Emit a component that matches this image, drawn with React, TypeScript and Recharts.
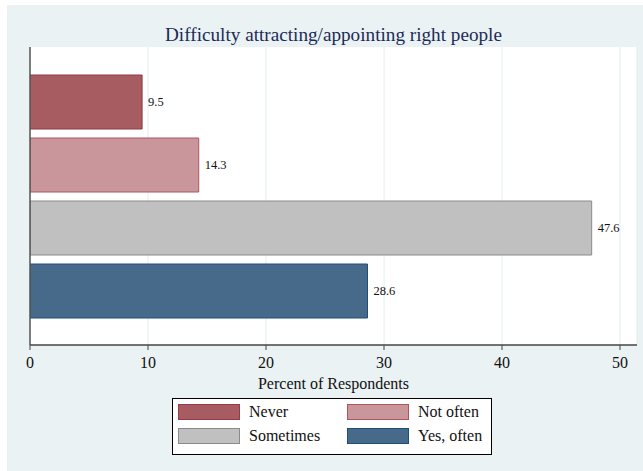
import React from 'react';
import { BarChart, Bar, XAxis, YAxis, CartesianGrid, LabelList, ReferenceLine } from 'recharts';

const categories = ['Never', 'Not often', 'Sometimes', 'Yes, often'];
const values = [9.5, 14.3, 47.6, 28.6];
const fills = ['#A65C60', '#C9979B', '#C0C0C0', '#476A8A'];
const strokes = ['#953B47', '#B0545E', '#8A8A8A', '#1F4E79'];
const xTicks = [0, 10, 20, 30, 40, 50];
const title = 'Difficulty attracting/appointing right people';
const xLabel = 'Percent of Respondents';

const row: Record<string, string | number> = { name: 'all' };
values.forEach((v, i) => { row[`s${i}`] = v; });
const data = [row];

const FONT = "'Liberation Serif', 'Times New Roman', serif";

export default function App() {
  return (
    <div style={{ position: 'absolute', left: 0, top: 0, width: 643, height: 471, background: '#fff', fontFamily: FONT }}>
      <div style={{ position: 'absolute', left: 7, top: 5, width: 636, height: 466, background: '#EAF2F3' }}>
        <BarChart
          width={636}
          height={466}
          layout="vertical"
          data={data}
          margin={{ top: 42, right: 6, bottom: 82, left: 23 }}
          barGap={9}
          style={{ fontFamily: FONT }}
        >
          <CartesianGrid horizontal={false} vertical stroke="#E2ECEE" fill="#FFFFFF" />
          <XAxis
            type="number"
            domain={[0, 51.44]}
            ticks={xTicks}
            allowDataOverflow
            height={44}
            axisLine={{ stroke: '#444', strokeWidth: 1.5 }}
            tickLine={{ stroke: '#444' }}
            tickSize={5}
            tickMargin={7}
            tick={{ fill: '#111', fontSize: 16, fontFamily: FONT }}
            label={{ value: xLabel, position: 'insideBottom', offset: 0, fill: '#111', fontSize: 16, fontFamily: FONT }}
          />
          <YAxis type="category" dataKey="name" hide />
          <ReferenceLine x={0} stroke="#555" strokeWidth={1.5} />
          {categories.map((c, i) => (
            <Bar
              key={c}
              dataKey={`s${i}`}
              name={c}
              fill={fills[i]}
              stroke={strokes[i]}
              strokeWidth={1}
              barSize={54}
              isAnimationActive={false}
            >
              <LabelList dataKey={`s${i}`} position="right" offset={6} fill="#111" fontSize={12.5} fontFamily={FONT} />
            </Bar>
          ))}
        </BarChart>
        <div style={{ position: 'absolute', left: 0, width: 653, top: 18, textAlign: 'center', fontSize: 19.2, color: '#1C2B57', lineHeight: '24px' }}>
          {title}
        </div>
        <div style={{ position: 'absolute', left: 165, top: 393, width: 318, height: 55, border: '1px solid #000', background: '#fff', fontSize: 16, color: '#111' }}>
          {categories.map((c, i) => {
            const col = i % 2;
            const r = Math.floor(i / 2);
            return (
              <div key={c} style={{ position: 'absolute', left: 5 + col * 169, top: 5 + r * 24, height: 16, display: 'flex', alignItems: 'center' }}>
                <div style={{ width: 60, height: 14, background: fills[i], border: `1px solid ${strokes[i]}` }} />
                <span style={{ marginLeft: 9, lineHeight: '16px' }}>{c}</span>
              </div>
            );
          })}
        </div>
      </div>
    </div>
  );
}
